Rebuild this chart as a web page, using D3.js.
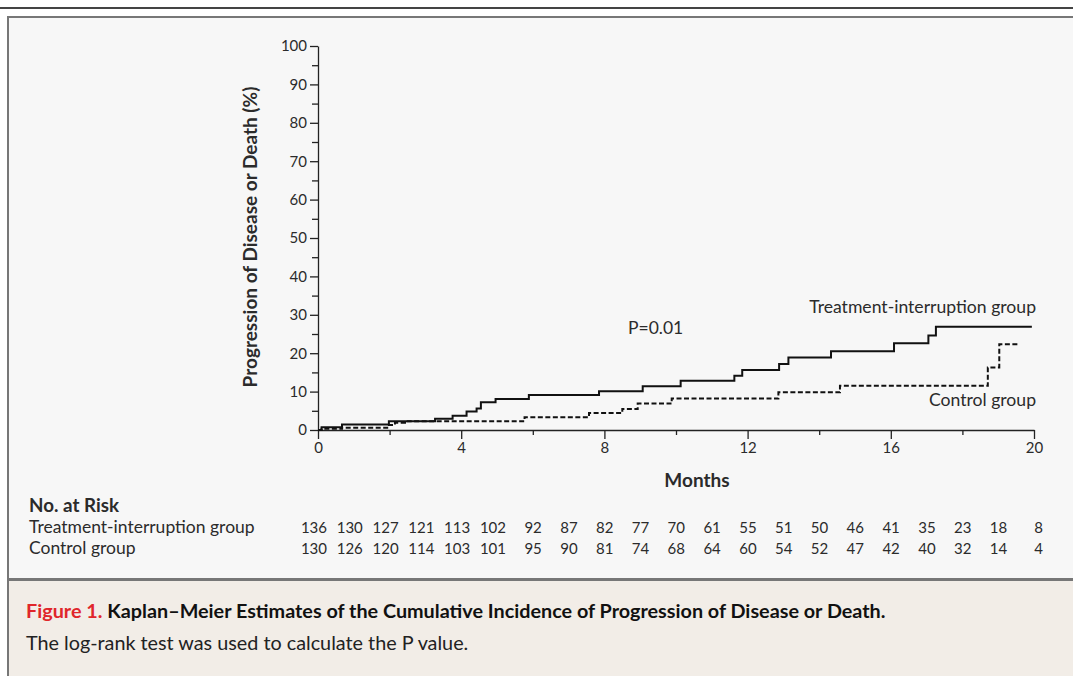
<!DOCTYPE html>
<html>
<head>
<meta charset="utf-8">
<script src="https://cdn.jsdelivr.net/npm/d3@7"></script>
<style>
  body { margin: 0; background: #fff; }
  text { font-family: Lato, "Open Sans", sans-serif; fill: #2b2b2b; }
  .axis text { font-size: 15px; }
  .axis path, .axis line { stroke: #222; stroke-width: 1.3; }
</style>
</head>
<body>
<script>
// Chart data
var xTicks = [0, 4, 8, 12, 16, 20];
var xMinorTicks = [2, 6, 10, 14, 18];
var yTicks = [0, 10, 20, 30, 40, 50, 60, 70, 80, 90, 100];
var yMinorTicks = [5, 15, 25, 35, 45, 55, 65, 75, 85, 95];

// step curves: time (months) / cumulative incidence (%)
var treatTimes  = [0, 0.1, 0.67, 1.98, 3.27, 3.76, 4.15, 4.43, 4.55, 4.96, 5.89, 7.85, 9.07, 10.13, 11.63, 11.85, 12.88, 13.14, 14.33, 16.09, 17.05, 17.26, 19.94];
var treatValues = [0, 0.7, 1.4, 2.3, 2.9, 3.7, 4.8, 5.6, 7.2, 8.1, 9.1, 10.1, 11.4, 12.8, 14.1, 15.6, 17.2, 18.9, 20.5, 22.6, 24.6, 26.9, 26.9];
var controlTimes  = [0, 0.1, 0.67, 1.98, 2.15, 2.43, 5.77, 7.57, 8.5, 8.93, 9.88, 12.86, 14.58, 18.71, 19.03, 19.58];
var controlValues = [0, 0.3, 0.6, 1.3, 1.9, 2.3, 3.3, 4.4, 5.5, 6.9, 8.2, 9.8, 11.5, 16.3, 22.3, 22.3];

var riskMonths = d3.range(0, 21);
var treatRisk   = [136, 130, 127, 121, 113, 102, 92, 87, 82, 77, 70, 61, 55, 51, 50, 46, 41, 35, 23, 18, 8];
var controlRisk = [130, 126, 120, 114, 103, 101, 95, 90, 81, 74, 68, 64, 60, 54, 52, 47, 42, 40, 32, 14, 4];

var svgWidth = 1073;
var svgHeight = 676;

var svg = d3.select("body")
  .append("svg")
  .attr("width", svgWidth)
  .attr("height", svgHeight);

// frame
svg.append("rect").attr("x", 0).attr("y", 0).attr("width", svgWidth).attr("height", svgHeight).attr("fill", "#fff");
svg.append("rect").attr("x", 0).attr("y", 7).attr("width", svgWidth).attr("height", 2).attr("fill", "#444");
svg.append("rect").attr("x", 8).attr("y", 16).attr("width", svgWidth).attr("height", 564).attr("fill", "#f7f7f7");
svg.append("rect").attr("x", 8).attr("y", 580).attr("width", svgWidth).attr("height", 96).attr("fill", "#f2ede7");
svg.append("rect").attr("x", 8).attr("y", 16).attr("width", svgWidth).attr("height", 2).attr("fill", "#777");
svg.append("rect").attr("x", 8).attr("y", 578).attr("width", svgWidth).attr("height", 3).attr("fill", "#777");
svg.append("rect").attr("x", 7).attr("y", 16).attr("width", 2).attr("height", 660).attr("fill", "#777");

var x = d3.scaleLinear().domain([0, 20]).range([318, 1034]);
var y = d3.scaleLinear().domain([0, 100]).range([430, 46]);

// y axis
svg.append("g")
  .attr("class", "axis")
  .attr("transform", "translate(318,0)")
  .call(d3.axisLeft(y).tickValues(yTicks).tickSize(8).tickSizeOuter(0).tickPadding(3));
svg.append("g")
  .attr("class", "axis")
  .attr("transform", "translate(318,0)")
  .call(d3.axisLeft(y).tickValues(yMinorTicks).tickSize(6).tickFormat(""))
  .select(".domain").remove();

// x axis
svg.append("g")
  .attr("class", "axis")
  .attr("transform", "translate(0,430)")
  .call(d3.axisBottom(x).tickValues(xTicks).tickSize(9).tickSizeOuter(0).tickPadding(3));
svg.append("g")
  .attr("class", "axis")
  .attr("transform", "translate(0,430)")
  .call(d3.axisBottom(x).tickValues(xMinorTicks).tickSize(5).tickFormat(""))
  .select(".domain").remove();

// axis titles
svg.append("text")
  .attr("transform", "translate(257,237) rotate(-90)")
  .attr("text-anchor", "middle")
  .style("font-size", "19px")
  .style("font-weight", "bold")
  .text("Progression of Disease or Death (%)");

svg.append("text")
  .attr("x", 697)
  .attr("y", 487)
  .attr("text-anchor", "middle")
  .style("font-size", "19px")
  .style("font-weight", "bold")
  .text("Months");

// curves
var stepLine = d3.line()
  .x(d => x(d[0]))
  .y(d => y(d[1]))
  .curve(d3.curveStepAfter);

svg.append("path")
  .datum(d3.zip(treatTimes, treatValues))
  .attr("d", stepLine)
  .attr("fill", "none")
  .attr("stroke", "#111")
  .attr("stroke-width", 2);

svg.append("path")
  .datum(d3.zip(controlTimes, controlValues))
  .attr("d", stepLine)
  .attr("fill", "none")
  .attr("stroke", "#111")
  .attr("stroke-width", 2)
  .attr("stroke-dasharray", "5,2.5");

// labels in plot
svg.append("text").attr("x", 628).attr("y", 334).style("font-size", "17.5px").text("P=0.01");
svg.append("text").attr("x", 1036).attr("y", 313).attr("text-anchor", "end").style("font-size", "17.6px").text("Treatment-interruption group");
svg.append("text").attr("x", 1036).attr("y", 406).attr("text-anchor", "end").style("font-size", "17.6px").text("Control group");

// number at risk
svg.append("text").attr("x", 29).attr("y", 512).style("font-size", "18.8px").style("font-weight", "bold").text("No. at Risk");
svg.append("text").attr("x", 29).attr("y", 533).style("font-size", "17.5px").text("Treatment-interruption group");
svg.append("text").attr("x", 29).attr("y", 554).style("font-size", "17.5px").text("Control group");

svg.append("g").selectAll("text")
  .data(treatRisk)
  .enter()
  .append("text")
  .attr("x", (d, i) => x(riskMonths[i]) + 9)
  .attr("y", 533)
  .attr("text-anchor", "end")
  .style("font-size", "15px")
  .text(d => d);

svg.append("g").selectAll("text")
  .data(controlRisk)
  .enter()
  .append("text")
  .attr("x", (d, i) => x(riskMonths[i]) + 9)
  .attr("y", 554)
  .attr("text-anchor", "end")
  .style("font-size", "15px")
  .text(d => d);

// caption
var cap = svg.append("text").attr("x", 26).attr("y", 618).style("font-size", "19.8px").style("font-weight", "bold");
cap.append("tspan").style("fill", "#e0262b").text("Figure 1. ");
cap.append("tspan").style("fill", "#111").text("Kaplan\u2013Meier Estimates of the Cumulative Incidence of Progression of Disease or Death.");

svg.append("text").attr("x", 26).attr("y", 650).style("font-size", "19.8px").style("fill", "#222")
  .text("The log-rank test was used to calculate the P value.");
</script>
</body>
</html>
